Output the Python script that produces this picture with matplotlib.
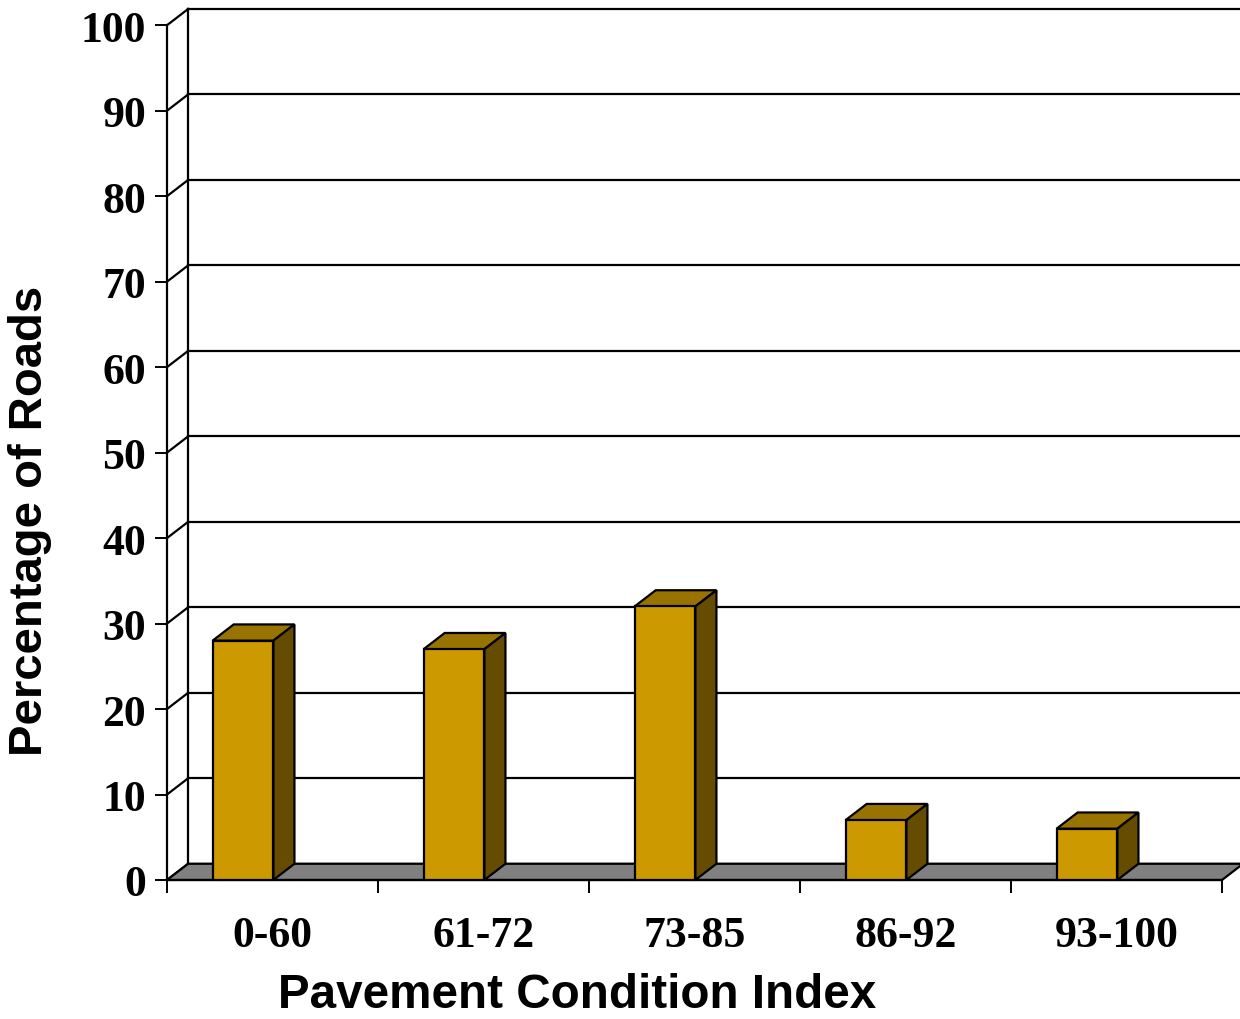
import matplotlib as mpl
mpl.use('agg')
import matplotlib.pyplot as plt

categories = ['0-60', '61-72', '73-85', '86-92', '93-100']
values = [28, 27, 32, 7, 6]
yticks = list(range(0, 101, 10))

front_color = '#CC9900'
top_color = '#997300'
side_color = '#664C00'
floor_color = '#808080'

# depth offset of the fake 3d box, in data units
dx = 0.1
dy = 1.9
bar_left = 0.216
bar_w = 0.288
n = len(categories)

fig = plt.figure(figsize=(12.4, 10.2), dpi=100)
ax = fig.add_axes([167 / 1240, 139 / 1020, 1073 / 1240, 871 / 1020])
ax.set_xlim(0, 1073 / 211)
ax.set_ylim(0, 100 + dy)
for s in ax.spines.values():
    s.set_visible(False)

lw = 1.6
# floor
ax.fill([0, n, n + dx, dx], [0, 0, dy, dy], facecolor=floor_color,
        edgecolor='black', lw=lw, zorder=2, clip_on=False)
# back wall gridlines and side wall diagonals
for v in yticks:
    ax.plot([dx, n + dx], [v + dy, v + dy], color='black', lw=lw, zorder=1, clip_on=False)
    ax.plot([0, dx], [v, v + dy], color='black', lw=lw, zorder=1, clip_on=False)
ax.plot([0, 0], [0, 100], color='black', lw=lw, zorder=1, clip_on=False)
ax.plot([dx, dx], [dy, 100 + dy], color='black', lw=lw, zorder=1, clip_on=False)
ax.plot([0, n], [0, 0], color='black', lw=lw, zorder=3, clip_on=False)

# bars
for i, v in enumerate(values):
    x0 = i + bar_left
    x1 = x0 + bar_w
    ax.bar(x0, v, bar_w, align='edge', color=front_color, edgecolor='black',
           lw=lw, zorder=5)
    ax.fill([x0, x0 + dx, x1 + dx, x1], [v, v + dy, v + dy, v],
            facecolor=top_color, edgecolor='black', lw=lw, zorder=4)
    ax.fill([x1, x1 + dx, x1 + dx, x1], [0, dy, v + dy, v],
            facecolor=side_color, edgecolor='black', lw=lw, zorder=4)

ax.set_yticks(yticks)
ax.set_yticklabels([str(t) for t in yticks], fontfamily='Liberation Serif',
                   fontweight='bold', fontsize=31.5)
ax.tick_params(axis='y', direction='out', length=9, width=1.4, pad=6)

ax.set_xticks(range(n + 1))
ax.set_xticklabels([''] * (n + 1))
ax.set_xticks([i + 0.5 for i in range(n)], minor=True)
ax.set_xticklabels(categories, minor=True, fontfamily='Liberation Serif',
                   fontweight='bold', fontsize=31.5)
ax.tick_params(axis='x', which='major', direction='out', length=9, width=1.4)
ax.tick_params(axis='x', which='minor', length=0, pad=25)

fig.text(577 / 1240, 1 - 996 / 1020, 'Pavement Condition Index', ha='center', va='center',
         fontfamily='Liberation Sans', fontweight='bold', fontsize=34.3)
fig.text(30 / 1240, 1 - 521 / 1020, 'Percentage of Roads', ha='center', va='center',
         rotation=90, fontfamily='Liberation Sans', fontweight='bold', fontsize=34)

plt.savefig('out.png', dpi=100)
